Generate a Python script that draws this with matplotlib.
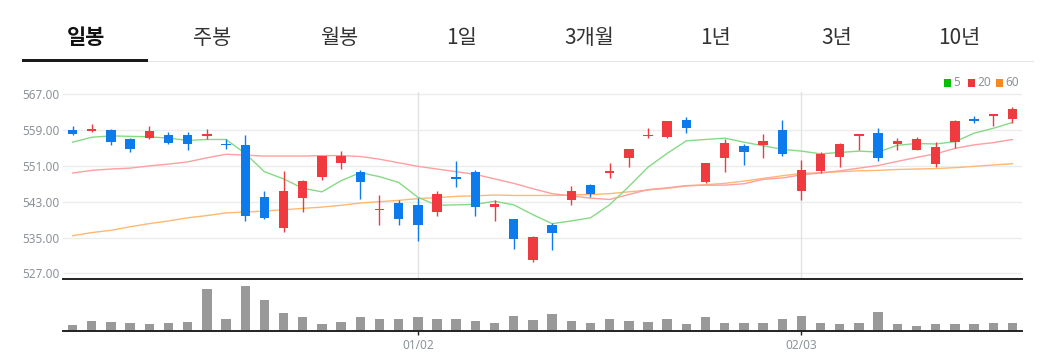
import matplotlib
matplotlib.use("Agg")
import matplotlib.pyplot as plt
from matplotlib.patches import Rectangle
import numpy as np

# ---------------- data ----------------
tabs = ["일봉", "주봉", "월봉", "1일", "3개월", "1년", "3년", "10년"]
tab_x = [86, 212, 339, 462, 589, 716, 837, 959]

opens  = [559.0, 559.0, 559.0, 556.9, 557.3, 558.0, 557.9, 557.6, 555.9, 555.7,
          544.0, 537.1, 543.8, 548.6, 551.6, 549.7, 541.1, 542.8, 542.3, 540.6,
          548.6, 549.7, 541.9, 539.2, 529.9, 537.8, 543.4, 546.8, 549.4, 552.7,
          557.6, 557.4, 561.2, 547.4, 552.7, 555.4, 555.7, 559.0, 545.5, 549.9,
          552.9, 557.7, 558.4, 556.0, 554.6, 551.4, 556.4, 561.4, 562.2, 561.4]
highs  = [559.9, 560.3, 559.2, 557.2, 559.9, 558.6, 558.6, 559.2, 556.9, 557.9,
          545.4, 549.9, 547.9, 553.2, 554.3, 550.0, 544.6, 543.4, 543.8, 545.3,
          552.0, 550.1, 543.4, 539.2, 535.4, 538.3, 546.6, 547.0, 551.6, 554.8,
          559.4, 561.0, 562.0, 551.7, 557.1, 555.8, 558.1, 561.2, 552.3, 554.0,
          556.1, 558.0, 559.5, 557.3, 557.4, 556.3, 561.2, 562.2, 562.6, 564.2]
lows   = [557.8, 558.5, 555.7, 554.0, 557.0, 555.9, 554.6, 556.9, 554.7, 538.8,
          539.1, 536.3, 540.8, 547.9, 550.4, 543.7, 537.9, 537.9, 534.2, 539.7,
          546.3, 539.9, 538.6, 532.5, 529.5, 532.2, 542.2, 544.0, 548.3, 550.8,
          557.3, 557.3, 558.4, 547.2, 549.7, 551.2, 552.8, 553.1, 543.4, 549.5,
          550.8, 554.6, 552.2, 554.6, 554.6, 550.8, 555.1, 560.5, 559.9, 560.6]
closes = [558.1, 559.2, 556.4, 554.7, 558.85, 556.1, 556.0, 558.1, 555.7, 539.7,
          539.4, 545.4, 547.7, 553.2, 553.2, 547.5, 541.4, 539.2, 537.9, 544.7,
          548.0, 541.8, 542.5, 534.6, 535.1, 536.0, 545.4, 544.7, 549.8, 554.8,
          558.0, 561.0, 559.5, 551.6, 556.1, 554.0, 556.5, 553.7, 550.1, 553.6,
          556.0, 558.0, 552.7, 556.6, 557.1, 555.2, 561.0, 561.1, 562.6, 563.8]

ma5  = [556.3, 557.4, 557.7, 557.6, 557.5, 557.2, 556.7, 556.9, 556.9, 553.8,
        549.7, 548.1, 546.0, 545.2, 547.7, 549.5, 548.6, 547.3, 544.0, 542.2,
        542.3, 542.4, 543.1, 542.3, 540.1, 538.1, 538.7, 539.4, 542.3, 546.4,
        550.7, 553.8, 556.6, 556.9, 557.2, 556.3, 555.5, 554.7, 554.3, 553.7,
        554.0, 554.3, 554.1, 555.6, 556.0, 555.9, 556.4, 558.3, 559.4, 560.7]
ma20 = [549.4, 550.0, 550.3, 550.5, 551.0, 551.4, 551.9, 552.8, 553.6, 553.4,
        553.2, 553.2, 553.2, 553.3, 553.3, 553.1, 552.5, 551.7, 550.9, 550.3,
        549.7, 549.1, 548.1, 547.1, 545.9, 544.8, 544.3, 543.8, 543.5, 544.6,
        545.7, 546.1, 546.6, 546.7, 546.7, 547.0, 548.0, 548.3, 549.0, 549.4,
        549.9, 550.5, 551.1, 552.0, 552.9, 553.7, 554.9, 555.7, 556.2, 556.9]
ma60 = [535.4, 536.1, 536.6, 537.4, 538.1, 538.7, 539.4, 539.9, 540.5, 540.7,
        540.9, 541.2, 541.5, 541.8, 542.2, 542.7, 543.0, 543.3, 543.7, 543.9,
        544.2, 544.3, 544.5, 544.4, 544.4, 544.4, 544.5, 544.6, 544.8, 545.2,
        545.6, 546.0, 546.5, 546.8, 547.1, 547.6, 548.2, 548.8, 549.3, 549.5,
        549.7, 549.9, 550.0, 550.2, 550.3, 550.4, 550.6, 550.9, 551.2, 551.5]

volumes = [6.0, 10.0, 9.0, 8.0, 7.0, 8.0, 9.0, 42.0, 11.7, 45.3,
           31.0, 18.0, 13.7, 7.0, 9.0, 13.7, 12.0, 11.7, 13.7, 12.0,
           11.7, 10.0, 8.3, 15.3, 11.0, 16.7, 10.0, 7.7, 12.0, 10.3,
           9.3, 11.7, 7.3, 14.3, 8.3, 8.3, 8.3, 12.0, 15.0, 8.3,
           7.0, 7.7, 19.3, 7.0, 5.3, 7.0, 7.0, 7.0, 7.7, 7.7]

y_ticks = [527, 535, 543, 551, 559, 567]
x_tick_idx = [18, 38]
x_tick_labels = ["01/02", "02/03"]

legend_labels = ["5", "20", "60"]
legend_colors = ["#00c000", "#f0353f", "#f7891f"]
ma_colors = ["#86da86", "#ff9f9f", "#ffb872"]

# ---------------- figure ----------------
W, H = 1040, 362
fig = plt.figure(figsize=(W / 100, H / 100), dpi=100)
fig.patch.set_facecolor("white")

def fx(px):
    return px / W

def fy(py):
    return 1 - py / H

# tabs
for i, (t, x) in enumerate(zip(tabs, tab_x)):
    fig.text(fx(x), fy(38), t, ha="center", va="center",
             fontsize=15, family=["Noto Sans CJK KR", "DejaVu Sans"],
             fontweight="bold" if i == 0 else "normal",
             color="#111111" if i == 0 else "#333333")
fig.add_artist(Rectangle((fx(148), fy(62)), fx(1034 - 148), 1.2 / H,
                         transform=fig.transFigure, color="#e4e4e4", lw=0))
fig.add_artist(Rectangle((fx(22), fy(62)), fx(126), 3 / H,
                         transform=fig.transFigure, color="#1a1a1a", lw=0))

# legend
lx = [943.5, 967.5, 996]
for lab, c, x in zip(legend_labels, legend_colors, lx):
    fig.add_artist(Rectangle((fx(x), fy(86.5)), fx(7.2), 7.2 / H,
                             transform=fig.transFigure, color=c, lw=0))
    fig.text(fx(x + 9.5), fy(83), lab, ha="left", va="center", fontsize=8.5,
             family="Noto Sans", color="#8d929a", fontweight="bold")

# ---------------- price axes ----------------
left, right = 63, 1022
p_top, p_bot = 92, 279
ax = fig.add_axes([fx(left), fy(p_bot), fx(right - left), (p_bot - p_top) / H])
n = len(opens)
xs = np.arange(n)
ax.set_xlim(-0.5, n - 0.5)
ax.set_ylim(525.73, 567.51)
for s in ax.spines.values():
    s.set_visible(False)
ax.set_yticks(y_ticks)
ax.set_yticklabels([f"{v:.2f}" for v in y_ticks])
ax.tick_params(axis="y", length=0, pad=2.5, labelsize=8.5, labelcolor="#8d929a")
for lab in ax.get_yticklabels():
    lab.set_family("Noto Sans")
ax.set_xticks([])
for v in y_ticks:
    ax.axhline(v, color="#ececec", lw=1.0, zorder=0)
for i in x_tick_idx:
    ax.axvline(i, color="#e2e2e2", lw=1.0, zorder=0)

# moving averages
for ma, c in zip([ma60, ma20, ma5], [ma_colors[2], ma_colors[1], ma_colors[0]]):
    ax.plot(xs, ma, color=c, lw=1.0, zorder=2, solid_joinstyle="round")

# candles
up_c, dn_c = "#ef3a3f", "#0d7bec"
bw = 0.49
for i in range(n):
    o, h, l, c = opens[i], highs[i], lows[i], closes[i]
    col = up_c if c >= o else dn_c
    ax.vlines(i, l, h, color=col, lw=1.0, zorder=3)
    lo = min(o, c)
    hgt = max(abs(c - o), 0.4)
    if abs(c - o) < 0.4:
        lo = (o + c) / 2 - 0.2
    ax.bar(i, hgt, bottom=lo, width=bw, color=col, lw=0, zorder=4)

# ---------------- volume axes ----------------
v_top, v_bot = 279, 331
vax = fig.add_axes([fx(left), fy(v_bot), fx(right - left), (v_bot - v_top) / H])
vax.set_xlim(-0.5, n - 0.5)
vax.set_ylim(0, max(volumes) * 52 / 45.3)
vax.bar(xs, volumes, width=bw, color="#999999", lw=0)
for k in ["left", "right"]:
    vax.spines[k].set_visible(False)
vax.spines["top"].set_color("#222222")
vax.spines["top"].set_linewidth(1.4)
vax.spines["bottom"].set_color("#222222")
vax.spines["bottom"].set_linewidth(1.4)
vax.set_yticks([])
vax.set_xticks(x_tick_idx)
vax.set_xticklabels(x_tick_labels)
vax.tick_params(axis="x", length=3, width=1, color="#222222", pad=3,
                labelsize=8.5, labelcolor="#8d929a")
for lab in vax.get_xticklabels():
    lab.set_family("Noto Sans")

fig.savefig("out.png", dpi=100, facecolor="white")
